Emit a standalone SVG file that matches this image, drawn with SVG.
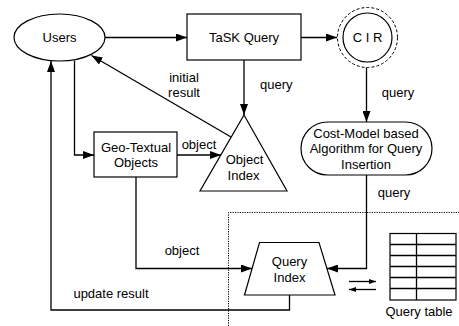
<svg xmlns="http://www.w3.org/2000/svg" width="459" height="326" viewBox="0 0 459 326">
<defs>
<style>
.s{fill:#fff;stroke:#000;stroke-width:1.2}
.l{fill:none;stroke:#000;stroke-width:1.3}
.d{fill:none;stroke:#000;stroke-width:1;stroke-dasharray:1.2 1.2}
text{font-family:"Liberation Sans",Arial,sans-serif;font-size:13px;fill:#000}
.m{text-anchor:middle}
</style>
<marker id="a" markerUnits="userSpaceOnUse" markerWidth="11" markerHeight="8" refX="11" refY="4" orient="auto">
<path d="M0,0 L11,4 L0,8 z" fill="#000"/>
</marker>
<marker id="b" markerUnits="userSpaceOnUse" markerWidth="7" markerHeight="5" refX="7" refY="2.5" orient="auto">
<path d="M0,0 L7,2.5 L0,5 z" fill="#000"/>
</marker>
</defs>
<rect width="459" height="326" fill="#fff"/>
<g id="boundary">
<path class="d" d="M228.5,326 V212.5 H459"/>
</g>
<g id="connectors">
<path class="l" d="M105,37.5 H187" marker-end="url(#a)"/>
<path class="l" d="M301,37.5 H337" marker-end="url(#a)"/>
<path class="l" d="M244,60 V115" marker-end="url(#a)"/>
<path class="l" d="M366.5,67 V122" marker-end="url(#a)"/>
<path class="l" d="M231,137 L91.5,55.5" marker-end="url(#a)"/>
<path class="l" d="M74.5,60.5 V155 H94" marker-end="url(#a)"/>
<path class="l" d="M177,155 H221" marker-end="url(#a)"/>
<path class="l" d="M136,177 V268.5 H252" marker-end="url(#a)"/>
<path class="l" d="M366.5,175 V268.5 H327" marker-end="url(#a)"/>
<path class="l" d="M289.5,295 V310 H51 V61" marker-end="url(#a)"/>
<path class="l" d="M349,281.5 H376" marker-end="url(#b)"/>
<path class="l" d="M376,289.5 H349" marker-end="url(#b)"/>
<text x="260" y="88.5">query</text>
<text x="184" y="81.5" class="m">initial</text>
<text x="184" y="96.5" class="m">result</text>
<text x="199" y="148.5" class="m">object</text>
<text x="398" y="96.5" class="m">query</text>
<text x="394" y="196.5" class="m">query</text>
<text x="182" y="254.5" class="m">object</text>
<text x="111" y="297.5" class="m">update result</text>
</g>
<g id="users">
<ellipse class="s" cx="59.5" cy="37.5" rx="45.5" ry="23.5"/>
<text x="59.5" y="42" class="m">Users</text>
</g>
<g id="task-query">
<rect class="s" x="187" y="14" width="114" height="46"/>
<text x="244" y="42" class="m">TaSK Query</text>
</g>
<g id="cir">
<circle cx="367.5" cy="37.5" r="30" fill="#fff" stroke="#000" stroke-width="1" stroke-dasharray="3 2"/>
<circle class="s" cx="367.5" cy="37.5" r="24.5"/>
<text x="367.5" y="42" class="m">C I R</text>
</g>
<g id="cost-model">
<rect class="s" x="301" y="122" width="131" height="53" rx="26.5" ry="26.5"/>
<text x="366" y="137.5" class="m">Cost-Model based</text>
<text x="366" y="153" class="m">Algorithm for Query</text>
<text x="366" y="168.5" class="m">Insertion</text>
</g>
<g id="geo-textual">
<rect class="s" x="94" y="132" width="83" height="45"/>
<text x="136" y="151.5" class="m">Geo-Textual</text>
<text x="136" y="166.5" class="m">Objects</text>
</g>
<g id="object-index">
<path class="s" d="M244,115 L287,191 L200,191 z"/>
<text x="244.5" y="163.5" class="m">Object</text>
<text x="243.5" y="180" class="m">Index</text>
</g>
<g id="query-index">
<path class="s" d="M259.5,242.5 L319,242.5 L335,295 L244.5,295 z"/>
<text x="289.5" y="266" class="m">Query</text>
<text x="289.5" y="281.5" class="m">Index</text>
</g>
<g id="query-table">
<rect class="s" x="390" y="233.5" width="66" height="66.5"/>
<path class="l" d="M416.5,233.5 V300 M390,244.5 H456 M390,255.5 H456 M390,266.5 H456 M390,277.5 H456 M390,288.5 H456"/>
<text x="419" y="316" class="m">Query table</text>
</g>
</svg>
